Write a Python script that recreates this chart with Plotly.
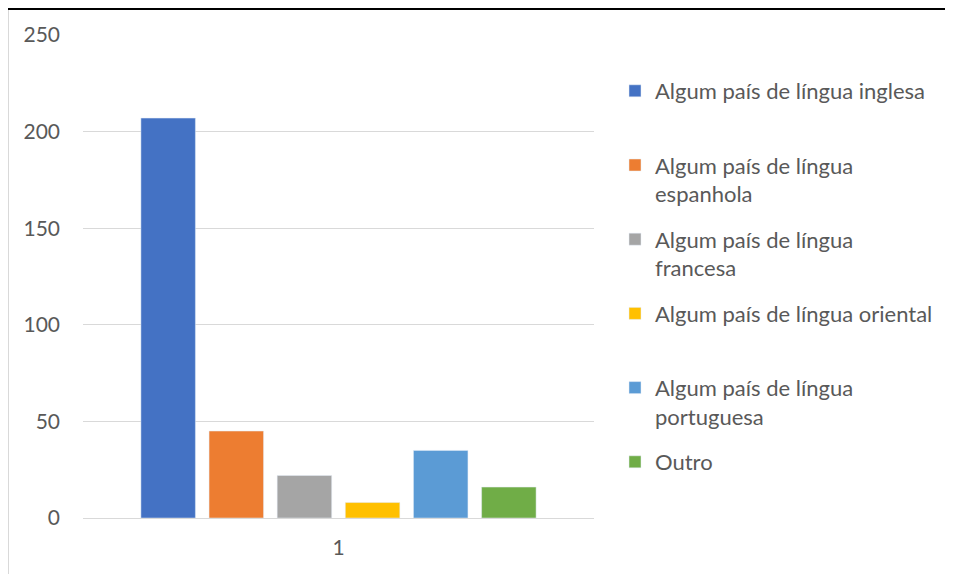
import plotly.graph_objects as go

# data
categories = ["1"]
series_names = [
    "Algum país de língua inglesa",
    "Algum país de língua<br>espanhola",
    "Algum país de língua<br>francesa",
    "Algum país de língua oriental",
    "Algum país de língua<br>portuguesa",
    "Outro",
]
series_values = [207, 45, 22, 8, 35, 16]
series_colors = ["#4472C4", "#ED7D31", "#A5A5A5", "#FFC000", "#5B9BD5", "#70AD47"]
y_ticks = [0, 50, 100, 150, 200, 250]

# the page body has an 8px margin, so the figure is shrunk by that much
OFF = 8
W, H = 953 - OFF, 574 - OFF
L, R, T, B = 83 - OFF, 359, 35 - OFF, 56
PW, PH = W - L - R, H - T - B


def px(x):
    # page x -> paper x
    return (x - OFF - L) / PW


def py(y):
    # page y -> paper y
    return (H - B - (y - OFF)) / PH


fig = go.Figure()

for name, val, col in zip(series_names, series_values, series_colors):
    # single-line entries get an empty second line so every slot is the same height
    label = name if "<br>" in name else name + "<br> "
    fig.add_trace(go.Bar(
        x=categories,
        y=[val],
        name=label,
        marker_color=col,
        legendgroup=name,
    ))

# page / chart frame lines
shapes = [
    dict(type="line", xref="paper", yref="paper", x0=px(OFF), x1=px(953), y0=py(OFF + 1), y1=py(OFF + 1),
         line=dict(color="black", width=2)),
    dict(type="line", xref="paper", yref="paper", x0=px(OFF + 0.5), x1=px(OFF + 0.5), y0=py(OFF + 2), y1=py(574),
         line=dict(color="#d9d9d9", width=1)),
]

fig.update_layout(
    width=W,
    height=H,
    margin=dict(l=L, r=R, t=T, b=B),
    paper_bgcolor="white",
    plot_bgcolor="white",
    font=dict(family="Lato, 'Open Sans', sans-serif", color="#595959", size=21),
    barmode="group",
    bargap=0.2,
    bargroupgap=0.2,
    showlegend=True,
    legend=dict(
        x=px(615),
        y=py(70),
        xanchor="left",
        yanchor="top",
        font=dict(size=22, color="#595959"),
        valign="top",
        tracegroupgap=14,
        traceorder="grouped",
    ),
    xaxis=dict(
        showgrid=False,
        showline=True,
        linecolor="#d9d9d9",
        linewidth=1.3,
        ticks="",
        ticklabelstandoff=11,
    ),
    yaxis=dict(
        range=[0, 250],
        tickvals=y_ticks,
        showgrid=True,
        gridcolor="#d9d9d9",
        gridwidth=1.3,
        zeroline=False,
        showline=False,
        ticks="",
        ticklabelstandoff=22,
    ),
    shapes=shapes,
)

fig.write_html("out.html")
